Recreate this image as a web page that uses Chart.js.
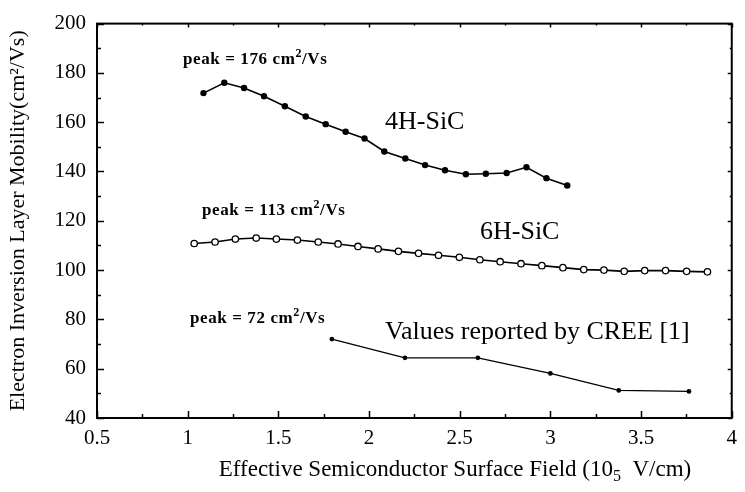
<!DOCTYPE html>
<html>
<head>
<meta charset="UTF-8" />
<title>Electron Inversion Layer Mobility</title>
<script src="https://cdn.jsdelivr.net/npm/chart.js"></script>
<style>
  body { margin: 0; padding: 0; background: #fff; }
  #wrap { width: 745px; height: 492px; }
</style>
<script>
// mobility vs. effective surface field (10^5 V/cm), cm2/Vs
var fieldTicks = [0.5, 1, 1.5, 2, 2.5, 3, 3.5, 4];
var mobilityTicks = [40, 60, 80, 100, 120, 140, 160, 180, 200];

var field4H = [1.087, 1.202, 1.311, 1.421, 1.536, 1.651, 1.761, 1.871, 1.975, 2.084,
               2.2, 2.309, 2.419, 2.534, 2.644, 2.759, 2.868, 2.978, 3.093];
var mob4H = [171.8, 176, 173.9, 170.5, 166.5, 162.3, 159.2, 156.1, 153.4, 148.1,
             145.3, 142.6, 140.5, 138.9, 139.1, 139.4, 141.7, 137.3, 134.3];

var field6H = [1.036, 1.151, 1.263, 1.378, 1.489, 1.605, 1.72, 1.829, 1.939, 2.05,
               2.162, 2.273, 2.383, 2.498, 2.611, 2.723, 2.838, 2.953, 3.069, 3.184,
               3.295, 3.407, 3.52, 3.635, 3.751, 3.866];
var mob6H = [110.8, 111.4, 112.6, 113, 112.6, 112.2, 111.4, 110.6, 109.6, 108.6,
             107.6, 106.8, 106, 105.2, 104.2, 103.4, 102.6, 101.8, 101, 100.2,
             100, 99.5, 99.8, 99.8, 99.5, 99.3];

var fieldCree = [1.795, 2.198, 2.6, 3.0, 3.377, 3.764];
var mobCree = [72, 64.4, 64.4, 58.1, 51.2, 50.8];

function toPoints(xs, ys) {
    var pts = [];
    for (var i = 0; i < xs.length; i++) {
        pts.push({ x: xs[i], y: ys[i] });
    }
    return pts;
}
</script>
</head>
<body>
<div id="wrap"><canvas id="chart" width="745" height="492"></canvas></div>
<script>
var serif = "'Liberation Serif', 'Times New Roman', serif";

// text run with raised/lowered small pieces: [[text, shift], ...]
function drawRuns(ctx, runs, x, y, size, spacing, weight) {
    ctx.letterSpacing = spacing + "px";
    runs.forEach(function (r) {
        var s = r[1] === 0 ? size : Math.round(size * 0.7);
        ctx.font = (weight || "") + " " + s + "px " + serif;
        ctx.fillText(r[0], x, y + r[1] * size);
        x += ctx.measureText(r[0]).width;
    });
    ctx.letterSpacing = "0px";
    return x;
}

function runsWidth(ctx, runs, size, spacing, weight) {
    ctx.letterSpacing = spacing + "px";
    var w = 0;
    runs.forEach(function (r) {
        var s = r[1] === 0 ? size : Math.round(size * 0.7);
        ctx.font = (weight || "") + " " + s + "px " + serif;
        w += ctx.measureText(r[0]).width;
    });
    ctx.letterSpacing = "0px";
    return w;
}

// frame box, inward tick marks, curve labels and the x title
var frameTicks = {
    id: "frameTicks",
    afterDraw: function (chart) {
        var ctx = chart.ctx;
        var a = chart.chartArea;
        var xs = chart.scales.x, ys = chart.scales.y;
        ctx.save();
        ctx.strokeStyle = "#000";
        ctx.lineWidth = 2;
        ctx.strokeRect(a.left, a.top, a.right - a.left, a.bottom - a.top);
        ctx.lineWidth = 1.5;
        ctx.beginPath();
        for (var v = 0.5; v <= 4.001; v += 0.25) {
            var px = Math.round(xs.getPixelForValue(v)) + 0.5;
            var major = Math.abs(v * 2 - Math.round(v * 2)) < 0.01;
            ctx.moveTo(px, a.bottom);
            ctx.lineTo(px, a.bottom - (major ? 7 : 4));
            ctx.moveTo(px, a.top);
            ctx.lineTo(px, a.top + (major ? 4 : 2));
        }
        for (var w = 40; w <= 200; w += 10) {
            var py = Math.round(ys.getPixelForValue(w)) + 0.5;
            var maj = w % 20 === 0;
            ctx.moveTo(a.left, py);
            ctx.lineTo(a.left + (maj ? 7 : 4), py);
            ctx.moveTo(a.right, py);
            ctx.lineTo(a.right - (maj ? 4 : 2), py);
        }
        ctx.stroke();

        ctx.fillStyle = "#000";
        ctx.textAlign = "left";
        ctx.textBaseline = "middle";

        var peaks = [
            ["176", 183, 60],
            ["113", 202, 211],
            ["72", 190, 319]
        ];
        peaks.forEach(function (p) {
            drawRuns(ctx, [["peak = " + p[0] + " cm", 0], ["2", -0.35], ["/Vs", 0]], p[1], p[2], 17, 0.6, "bold");
        });

        var names = [
            ["4H-SiC", 385, 122],
            ["6H-SiC", 480, 232],
            ["Values reported by CREE [1]", 385, 332]
        ];
        ctx.font = "26px " + serif;
        names.forEach(function (n) {
            ctx.fillText(n[0], n[1], n[2]);
        });

        var title = [["Effective Semiconductor Surface Field (10", 0], ["5", 0.3], ["  V/cm)", 0]];
        var tw = runsWidth(ctx, title, 23, 0);
        drawRuns(ctx, title, 455 - tw / 2, 470, 23, 0);
        ctx.restore();
    }
};

new Chart(document.getElementById("chart"), {
    type: "scatter",
    data: {
        datasets: [
            {
                label: "4H-SiC",
                data: toPoints(field4H, mob4H),
                showLine: true,
                borderColor: "#000",
                backgroundColor: "#000",
                borderWidth: 1.6,
                pointRadius: 3.2,
                pointBorderWidth: 0
            },
            {
                label: "6H-SiC",
                data: toPoints(field6H, mob6H),
                showLine: true,
                borderColor: "#000",
                backgroundColor: "#fff",
                borderWidth: 1.6,
                pointRadius: 3.2,
                pointBorderWidth: 1.3,
                pointBorderColor: "#000"
            },
            {
                label: "CREE",
                data: toPoints(fieldCree, mobCree),
                showLine: true,
                borderColor: "#000",
                backgroundColor: "#000",
                borderWidth: 1.3,
                pointRadius: 2.4,
                pointBorderWidth: 0
            }
        ]
    },
    options: {
        responsive: false,
        animation: false,
        layout: { padding: { top: 22, right: 10, left: 0, bottom: 0 } },
        plugins: {
            legend: { display: false },
            tooltip: { enabled: false }
        },
        scales: {
            x: {
                type: "linear",
                min: 0.5,
                max: 4,
                afterBuildTicks: function (s) {
                    s.ticks = fieldTicks.map(function (v) { return { value: v }; });
                },
                afterFit: function (s) { s.height = 74; },
                grid: { display: false, drawTicks: false },
                border: { display: false },
                ticks: {
                    color: "#000",
                    padding: 8,
                    maxRotation: 0,
                    font: { family: serif, size: 21 },
                    callback: function (v) { return String(v); }
                },
                title: { display: false }
            },
            y: {
                type: "linear",
                min: 40,
                max: 200,
                afterBuildTicks: function (s) {
                    s.ticks = mobilityTicks.map(function (v) { return { value: v }; });
                },
                afterFit: function (s) { s.width = 97; },
                grid: { display: false, drawTicks: false },
                border: { display: false },
                ticks: {
                    color: "#000",
                    padding: 11,
                    font: { family: serif, size: 21 }
                },
                title: {
                    display: true,
                    text: "Electron Inversion Layer Mobility(cm\u00b2/Vs)",
                    color: "#000",
                    padding: { top: 5, bottom: 5 },
                    font: { family: serif, size: 22 }
                }
            }
        }
    },
    plugins: [frameTicks]
});
</script>
</body>
</html>
